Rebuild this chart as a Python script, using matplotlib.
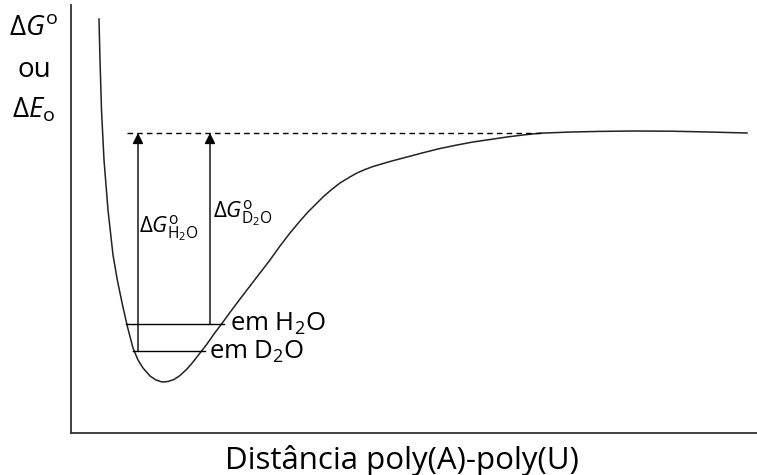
import matplotlib
matplotlib.use("Agg")
import matplotlib.pyplot as plt

# ---------------- FONTS ----------------
plt.rcParams["font.family"] = ["Open Sans", "DejaVu Sans"]
plt.rcParams["mathtext.fontset"] = "custom"
plt.rcParams["mathtext.rm"] = "Open Sans"
plt.rcParams["mathtext.it"] = "Open Sans:italic"

# ---------------- DATA ----------------
# potential energy curve, arbitrary units
distance = [28, 29, 30.5, 33, 37, 42, 46.5, 51.5, 56.5, 62, 67, 72, 79, 85, 91,
            97, 103, 109, 116, 122, 129, 136, 143, 152, 160, 169, 179, 189,
            199, 209, 219, 229, 237, 245, 252, 260, 269, 278, 286, 294, 302,
            319, 336, 353, 369, 386, 402, 419, 436, 452, 469, 500, 529, 562,
            600, 629, 676]
energy = [414, 373, 323, 273, 223, 178, 152, 128, 106, 85, 73, 65, 57, 53, 51,
          51.5, 53.5, 57.5, 64, 71, 80, 89, 99, 111, 122, 134, 147, 160, 173,
          187, 200, 212, 221, 229, 236, 243, 250, 255.5, 260, 263.5, 266.5,
          271.5, 276, 280.5, 284.5, 288, 291, 293.5, 296, 298, 299.8, 301,
          301.6, 302, 301.8, 301.2, 300]

dissociation_level = 300
dashed_span = [56, 472]

level_names = ["em H$_2$O", "em D$_2$O"]
level_energy = [109, 82]
level_left = [55, 62]
level_right = [153, 134]

arrow_x = [67, 139]
arrow_from = [82, 109]
arrow_labels = [r"$\Delta G^{\rm o}_{\rm H_2O}$", r"$\Delta G^{\rm o}_{\rm D_2O}$"]

# ---------------- FIGURE ----------------
fig = plt.figure(figsize=(7.57, 4.75), dpi=100)
ax = fig.add_axes([71 / 757, 42 / 475, 686 / 757, 428 / 475])
ax.set_xlim(0, 686)
ax.set_ylim(0, 428)
for side in ["top", "right"]:
    ax.spines[side].set_visible(False)
for side in ["left", "bottom"]:
    ax.spines[side].set_linewidth(1.3)
    ax.spines[side].set_color("#333333")
ax.set_xticks([])
ax.set_yticks([])

ax.plot(distance, energy, color="#222222", lw=1.1, solid_joinstyle="round")

# dissociation level
ax.plot(dashed_span, [dissociation_level] * 2, color="black", lw=1.0,
        linestyle=(0, (4, 3)))

# vibrational ground levels
for e, xl, xr in zip(level_energy, level_left, level_right):
    ax.plot([xl, xr], [e, e], color="black", lw=1.0)

ax.text(159, 109, level_names[0], fontsize=18.5, va="center", ha="left")
ax.text(138, 81, level_names[1], fontsize=18.5, va="center", ha="left")

# arrows
for x, y0 in zip(arrow_x, arrow_from):
    ax.annotate("", xy=(x, dissociation_level), xytext=(x, y0),
                arrowprops=dict(arrowstyle="-|>", color="black", lw=1.0,
                                mutation_scale=16, shrinkA=0, shrinkB=0))

ax.text(arrow_x[0] + 1, 204, arrow_labels[0], fontsize=16, va="center", ha="left")
ax.text(arrow_x[1] + 3, 219, arrow_labels[1], fontsize=16, va="center", ha="left")

# axis labels
fig.text(34 / 757, 1 - 28 / 475, r"$\Delta G^{\rm o}$", fontsize=20, ha="center", va="center")
fig.text(34 / 757, 1 - 70 / 475, "ou", fontsize=20, ha="center", va="center")
fig.text(34 / 757, 1 - 110 / 475, r"$\Delta E_{\rm o}$", fontsize=20, ha="center", va="center")
fig.text(402 / 757, 1 - 461 / 475, "Distância poly(A)-poly(U)", fontsize=22.5,
         ha="center", va="center")

fig.savefig("out.png", dpi=100)
